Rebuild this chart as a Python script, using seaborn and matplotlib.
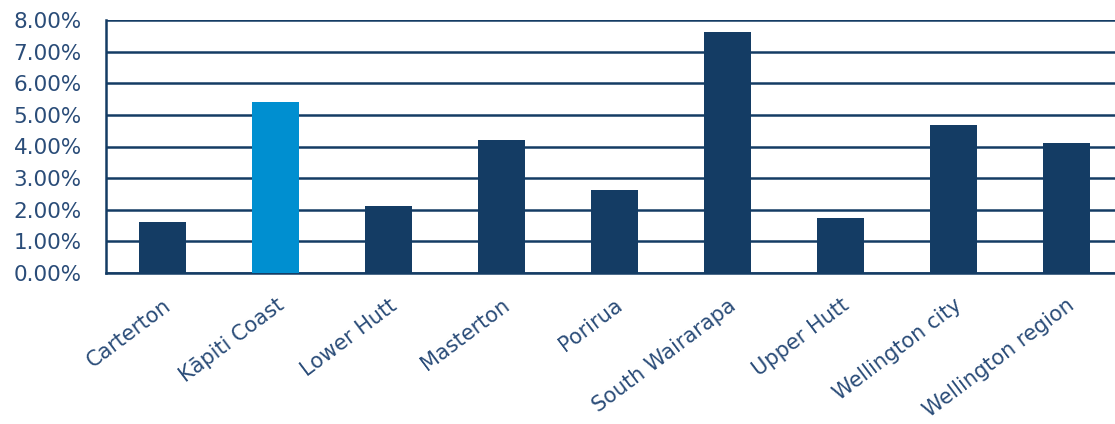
import matplotlib
matplotlib.use("Agg")
import matplotlib.pyplot as plt
import matplotlib.transforms as mtransforms
import seaborn as sns
import pandas as pd
from matplotlib.ticker import FuncFormatter, MultipleLocator

categories = ["Carterton", "Kāpiti Coast", "Lower Hutt", "Masterton", "Porirua",
              "South Wairarapa", "Upper Hutt", "Wellington city", "Wellington region"]
values = [1.61, 5.41, 2.12, 4.21, 2.63, 7.63, 1.74, 4.68, 4.11]
highlight = "Kāpiti Coast"

navy = "#143C64"
bright = "#008FD0"
text_col = "#2A4C78"

df = pd.DataFrame({"region": categories, "value": values})
palette = {c: (bright if c == highlight else navy) for c in categories}

sns.set_theme(style="white")
plt.rcParams["font.family"] = ["DejaVu Sans"]

fig = plt.figure(figsize=(11.15, 4.24), dpi=100)
ax = fig.add_axes([106/1115, (424-273)/424, (1123-106)/1115, (273-20)/424])

sns.barplot(data=df, x="region", y="value", hue="region", palette=palette,
            legend=False, width=0.415, saturation=1, linewidth=0, ax=ax, zorder=3)

ax.set_ylim(0, 8)
ax.set_xlim(-0.5, len(categories) - 0.5)
ax.yaxis.set_major_locator(MultipleLocator(1))
ax.yaxis.set_major_formatter(FuncFormatter(lambda v, p: f"{v:.2f}%"))
ax.grid(axis="y", color=navy, linewidth=1.8, zorder=0)
ax.set_axisbelow(True)

for s in ["top", "right"]:
    ax.spines[s].set_visible(False)
ax.spines["left"].set_color(navy)
ax.spines["left"].set_linewidth(1.8)
ax.spines["bottom"].set_color(navy)
ax.spines["bottom"].set_linewidth(1.8)

ax.set_xticks([i - 0.5 for i in range(len(categories) + 1)], minor=True)
ax.set_xticks(range(len(categories)))
ax.set_xticklabels(categories, rotation=37, ha="right", va="top", rotation_mode="anchor",
                   fontsize=15, color=text_col)
shift = mtransforms.ScaledTranslation(2/100, 0, fig.dpi_scale_trans)
for lbl in ax.get_xticklabels():
    lbl.set_transform(lbl.get_transform() + shift)
ax.tick_params(axis="x", which="major", length=0, pad=16)
ax.tick_params(axis="x", which="minor", length=10, width=1.8, color=navy, direction="out")
ax.tick_params(axis="y", length=9.5, width=1.8, color=navy, labelsize=15.5,
               labelcolor=text_col, pad=8)
ax.set_xlabel("")
ax.set_ylabel("")

fig.savefig("out.png", dpi=100)
